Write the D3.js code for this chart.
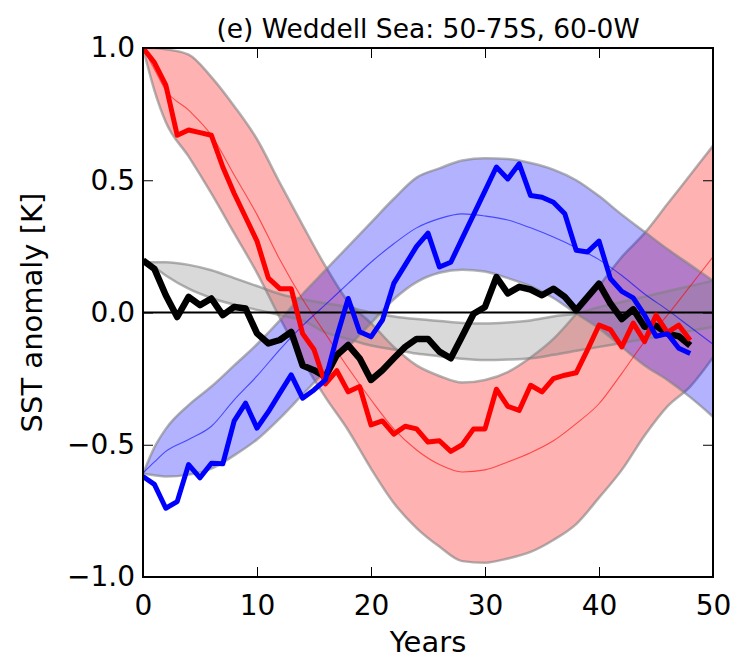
<!DOCTYPE html>
<html><head><meta charset="utf-8">
<script src="https://cdn.jsdelivr.net/npm/d3@7/dist/d3.min.js"></script>
<style>body{margin:0;background:#fff}svg text{font-family:"DejaVu Sans",sans-serif}</style>
</head><body>
<svg id="c" width="738" height="662"></svg>
<script>
// ---------- data ----------
const obsYears = [0,1,2,3,4,5,6,7,8,9,10,11,12,13,14,15,16,17,18,19,20,21,22,23,24,25,26,27,28,29,30,31,32,33,34,35,36,37,38,39,40,41,42,43,44,45,46,47,48];
const redObs = [1.0,0.945,0.86,0.67,0.69,0.68,0.67,0.55,0.45,0.36,0.27,0.13,0.09,0.09,-0.08,-0.14,-0.27,-0.22,-0.30,-0.28,-0.425,-0.41,-0.46,-0.43,-0.44,-0.49,-0.485,-0.525,-0.50,-0.44,-0.44,-0.29,-0.355,-0.37,-0.275,-0.30,-0.25,-0.237,-0.228,-0.14,-0.048,-0.065,-0.13,-0.04,-0.11,-0.01,-0.075,-0.048,-0.105];
const blueObs = [-0.62,-0.65,-0.74,-0.715,-0.575,-0.625,-0.57,-0.572,-0.41,-0.343,-0.437,-0.375,-0.305,-0.236,-0.324,-0.293,-0.255,-0.092,0.053,-0.073,-0.092,-0.029,0.11,0.18,0.25,0.30,0.172,0.19,0.28,0.37,0.46,0.55,0.505,0.562,0.442,0.436,0.417,0.373,0.235,0.229,0.27,0.128,0.08,0.055,-0.01,-0.09,-0.08,-0.135,-0.155];
const blackObs = [0.197,0.165,0.065,-0.017,0.059,0.028,0.053,-0.01,0.021,0.015,-0.079,-0.117,-0.104,-0.073,-0.2,-0.218,-0.243,-0.161,-0.123,-0.173,-0.255,-0.218,-0.173,-0.13,-0.10,-0.10,-0.148,-0.173,-0.09,-0.005,0.021,0.134,0.072,0.097,0.087,0.065,0.09,0.059,0.009,0.059,0.109,0.034,-0.025,0.012,-0.054,-0.05,-0.08,-0.09,-0.125];

const bandYears = [0,1,2,4,6,8,10,12,14,16,18,20,22,24,26,28,30,32,34,36,38,40,42,44,46,48,50];
const redUpper = [1.0,1.0,0.995,0.975,0.89,0.78,0.655,0.49,0.33,0.175,0.04,-0.04,-0.13,-0.20,-0.24,-0.265,-0.255,-0.225,-0.17,-0.10,-0.005,0.10,0.21,0.30,0.41,0.52,0.63];
const redLower = [1.0,0.84,0.72,0.59,0.45,0.30,0.15,-0.02,-0.18,-0.32,-0.445,-0.59,-0.72,-0.815,-0.885,-0.94,-0.946,-0.93,-0.905,-0.86,-0.80,-0.70,-0.595,-0.465,-0.355,-0.28,-0.17];
const redMean = [1.0,0.92,0.84,0.765,0.67,0.52,0.37,0.2,0.05,-0.08,-0.21,-0.33,-0.44,-0.52,-0.575,-0.603,-0.595,-0.565,-0.53,-0.485,-0.42,-0.345,-0.23,-0.11,-0.01,0.1,0.21];
const blueUpper = [-0.61,-0.51,-0.44,-0.35,-0.28,-0.2,-0.12,-0.03,0.07,0.16,0.25,0.34,0.43,0.51,0.545,0.575,0.583,0.58,0.565,0.54,0.50,0.44,0.37,0.305,0.24,0.18,0.12];
const blueLower = [-0.61,-0.615,-0.62,-0.613,-0.59,-0.54,-0.48,-0.40,-0.31,-0.22,-0.13,-0.04,0.05,0.115,0.15,0.162,0.155,0.13,0.10,0.055,-0.004,-0.06,-0.13,-0.2,-0.255,-0.32,-0.394];
const blueMean = [-0.607,-0.565,-0.525,-0.48,-0.43,-0.33,-0.24,-0.14,-0.05,0.03,0.11,0.19,0.26,0.32,0.355,0.373,0.365,0.35,0.32,0.285,0.245,0.2,0.14,0.07,0.01,-0.055,-0.12];
const greyUpper = [0.19,0.19,0.19,0.18,0.16,0.13,0.10,0.07,0.05,0.035,0.02,0.0,-0.015,-0.025,-0.032,-0.04,-0.042,-0.038,-0.03,-0.015,-0.004,0.02,0.04,0.06,0.08,0.10,0.12];
const greyLower = [0.19,0.17,0.14,0.09,0.055,0.03,0.01,-0.01,-0.03,-0.075,-0.1,-0.125,-0.14,-0.155,-0.165,-0.175,-0.18,-0.178,-0.173,-0.16,-0.145,-0.13,-0.115,-0.1,-0.085,-0.07,-0.055];

const xTicks = [0,10,20,30,40,50];
const yTicks = [-1.0,-0.5,0.0,0.5,1.0];
const titleText = "(e) Weddell Sea: 50-75S, 60-0W";
const xLabel = "Years";
const yLabel = "SST anomaly [K]";

// ---------- layout ----------
const L = 143, R = 713, T = 48, B = 577;
const svg = d3.select("#c");
const x = d3.scaleLinear().domain([0,50]).range([L,R]);
const y = d3.scaleLinear().domain([-1,1]).range([B,T]);

svg.append("defs").append("clipPath").attr("id","pc")
  .append("rect").attr("x",L).attr("y",T).attr("width",R-L).attr("height",B-T);
const plot = svg.append("g").attr("clip-path","url(#pc)");

function band(up, lo, color){
  const rows = bandYears.map((t,i)=>({t, u:up[i], l:lo[i]}));
  const area = d3.area().x(d=>x(d.t)).y0(d=>y(d.l)).y1(d=>y(d.u)).curve(d3.curveMonotoneX);
  plot.append("path").datum(rows).attr("d",area).attr("fill",color).attr("fill-opacity",0.3).attr("stroke","none");
  [d=>y(d.u), d=>y(d.l)].forEach(fy=>{
    plot.append("path").datum(rows).attr("d",d3.line().x(d=>x(d.t)).y(fy).curve(d3.curveMonotoneX))
      .attr("fill","none").attr("stroke","#808080").attr("stroke-opacity",0.6).attr("stroke-width",2.5);
  });
}
band(redUpper, redLower, "red");
band(blueUpper, blueLower, "blue");
band(greyUpper, greyLower, "gray");

function meanLine(vals, color){
  plot.append("path").datum(bandYears.map((t,i)=>[t,vals[i]]))
    .attr("d", d3.line().x(d=>x(d[0])).y(d=>y(d[1])).curve(d3.curveMonotoneX))
    .attr("fill","none").attr("stroke",color).attr("stroke-opacity",0.6).attr("stroke-width",1.1);
}
meanLine(redMean,"red");
meanLine(blueMean,"blue");

// zero line
plot.append("line").attr("x1",L).attr("x2",R).attr("y1",y(0)).attr("y2",y(0))
  .attr("stroke","#000").attr("stroke-width",2);

function obsLine(vals, color, w){
  plot.append("path").datum(obsYears.map((t,i)=>[t,vals[i]]))
    .attr("d", d3.line().x(d=>x(d[0])).y(d=>y(d[1])))
    .attr("fill","none").attr("stroke",color).attr("stroke-width",w)
    .attr("stroke-linejoin","round").attr("stroke-linecap","butt");
}
obsLine(blackObs,"#000",6.5);
obsLine(redObs,"#ff0000",5);
obsLine(blueObs,"#0000ff",5);

// axes
const fmtY = d => d3.format(".1f")(d).replace("-","\u2212");
const ax = svg.append("g").attr("transform",`translate(0,${B})`)
  .call(d3.axisBottom(x).tickValues(xTicks).tickSize(-10).tickPadding(18).tickFormat(d3.format("d")));
const axT = svg.append("g").attr("transform",`translate(0,${T})`)
  .call(d3.axisTop(x).tickValues(xTicks).tickSize(-10).tickFormat(""));
const ay = svg.append("g").attr("transform",`translate(${L},0)`)
  .call(d3.axisLeft(y).tickValues(yTicks).tickSize(-10).tickPadding(8).tickFormat(fmtY));
const ayR = svg.append("g").attr("transform",`translate(${R},0)`)
  .call(d3.axisRight(y).tickValues(yTicks).tickSize(-10).tickFormat(""));
[ax,axT,ay,ayR].forEach(g=>{
  g.select(".domain").remove();
  g.selectAll(".tick line").attr("stroke","#000").attr("stroke-width",1);
  g.selectAll(".tick text").attr("fill","#000").attr("font-size",28).attr("font-family","DejaVu Sans");
});

// frame
svg.append("rect").attr("x",L).attr("y",T).attr("width",R-L).attr("height",B-T)
  .attr("fill","none").attr("stroke","#000").attr("stroke-width",2);

// texts
svg.append("text").attr("x",(L+R)/2).attr("y",38).attr("text-anchor","middle")
  .attr("font-size",26.5).text(titleText);
svg.append("text").attr("x",(L+R)/2).attr("y",652).attr("text-anchor","middle")
  .attr("font-size",29).text(xLabel);
svg.append("text").attr("transform",`translate(42,${(T+B)/2}) rotate(-90)`).attr("text-anchor","middle")
  .attr("font-size",29).text(yLabel);
</script>
</body></html>
